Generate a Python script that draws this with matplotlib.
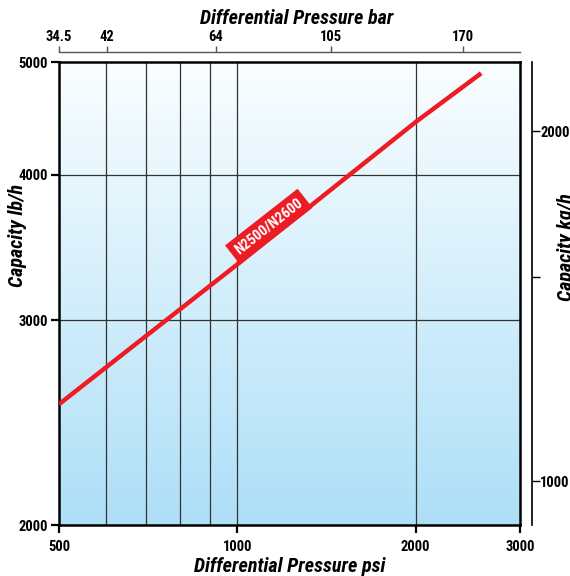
import matplotlib.pyplot as plt
import matplotlib.ticker as mticker
from matplotlib import font_manager as fm
import numpy as np

# data
psi = [500, 1000, 2000, 2580]
capacity_lb = [2540, 3350, 4440, 4890]
series_name = "N2500/N2600"

psi_ticks = [500, 1000, 2000, 3000]
psi_grid = [600, 700, 800, 900, 1000, 2000]
lb_ticks = [2000, 3000, 4000, 5000]
lb_grid = [3000, 4000]

# top scale (bar) - where the labels sit, in psi
bar_labels = ['34.5', '42', '64', '105', '170']
bar_at_psi = [500, 603, 920, 1440, 2400]

# right scale (kg/h)
kg_ticks = [1000, 1500, 2000]
kg_labels = ['1000', '', '2000']
kg_lim = (917, 2294)

red = '#ED1C24'


def _is_bold(w):
    if isinstance(w, str):
        return w in ('bold', 'heavy', 'extra bold', 'black', 'semibold', 'demibold')
    return w >= 600


def narrow_font(size, italic=False):
    # look for a condensed bold face; fall back to a plain bold sans
    order = ['Liberation Sans Narrow', 'Roboto Condensed', 'Open Sans Condensed',
             'Open Sans', 'Noto Sans', 'DejaVu Sans', 'Roboto', 'Lato', 'Inter']
    hits = []
    for f in fm.fontManager.ttflist:
        narrow = ('Narrow' in f.name or 'Condensed' in f.name or
                  f.stretch in ('condensed', 'semi-condensed'))
        if not narrow or not _is_bold(f.weight):
            continue
        if (f.style != 'normal') != italic:
            continue
        rank = order.index(f.name) if f.name in order else len(order)
        hits.append((rank, f.fname))
    if hits:
        hits.sort()
        return fm.FontProperties(fname=hits[0][1], size=size)
    return fm.FontProperties(family=['Liberation Sans', 'DejaVu Sans'], weight='bold',
                             style='italic' if italic else 'normal', size=size)


tick_fp = narrow_font(10.5)
label_fp = narrow_font(14.5, italic=True)
box_fp = narrow_font(10.5)

fig = plt.figure(figsize=(5.7, 5.76), dpi=100)
pos = [59 / 570, 51 / 576, 461 / 570, 463 / 576]

# gradient background
bg = fig.add_axes(pos, zorder=0)
top = np.array([0.98, 0.995, 1.0])
bot = np.array([0.68, 0.875, 0.97])
t = np.linspace(0, 1, 256)[:, None]
grad = (top * (1 - t) + bot * t)[:, None, :]
bg.imshow(grad, aspect='auto', extent=[0, 1, 0, 1])
bg.axis('off')

ax = fig.add_axes(pos, zorder=1)
ax.patch.set_alpha(0)
ax.set_xscale('log')
ax.set_yscale('log')
ax.set_xlim(500, 3000)
ax.set_ylim(2000, 5000)

for g in psi_grid:
    ax.axvline(g, color='#333333', lw=0.9, zorder=1)
for g in lb_grid:
    ax.axhline(g, color='#333333', lw=0.9, zorder=1)

ax.plot(psi, capacity_lb, color=red, lw=3.2, solid_capstyle='butt', zorder=3)

ax.text(1130, 3610, series_name, rotation=38, ha='center', va='center',
        rotation_mode='anchor', color='white', fontproperties=box_fp,
        bbox=dict(boxstyle='square,pad=0.35', fc=red, ec='none'), zorder=4)

ax.xaxis.set_major_locator(mticker.FixedLocator(psi_ticks))
ax.xaxis.set_major_formatter(mticker.FixedFormatter([str(v) for v in psi_ticks]))
ax.xaxis.set_minor_locator(mticker.NullLocator())
ax.yaxis.set_major_locator(mticker.FixedLocator(lb_ticks))
ax.yaxis.set_major_formatter(mticker.FixedFormatter([str(v) for v in lb_ticks]))
ax.yaxis.set_minor_locator(mticker.NullLocator())
ax.tick_params(axis='both', direction='out', length=6, width=1.6, pad=2)
ax.tick_params(axis='x', pad=5)
for lab in ax.get_xticklabels() + ax.get_yticklabels():
    lab.set_fontproperties(tick_fp)
for s in ax.spines.values():
    s.set_linewidth(1.8)

ax.set_xlabel('Differential Pressure psi', fontproperties=label_fp)
ax.xaxis.set_label_coords(0.5, -0.07)
ax.set_ylabel('Capacity lb/h', fontproperties=label_fp)
ax.yaxis.set_label_coords(-0.07, 0.625)

# top bar axis
axt = ax.twiny()
axt.set_xscale('log')
axt.set_xlim(500, 3000)
axt.xaxis.set_major_locator(mticker.FixedLocator(bar_at_psi))
axt.xaxis.set_major_formatter(mticker.FixedFormatter(bar_labels))
axt.xaxis.set_minor_locator(mticker.NullLocator())
for k in ['left', 'right', 'bottom']:
    axt.spines[k].set_visible(False)
axt.spines['top'].set_position(('outward', 7))
axt.spines['top'].set_color('#555555')
axt.spines['top'].set_linewidth(1.0)
axt.tick_params(axis='x', direction='out', length=4.5, width=1.0, color='#555555', pad=1.5)
for lab in axt.get_xticklabels():
    lab.set_fontproperties(tick_fp)
axt.set_xlabel('Differential Pressure bar', fontproperties=label_fp)
axt.xaxis.set_label_coords(0.515, 1.082)

# right kg/h axis
axr = ax.twinx()
axr.set_yscale('log')
axr.set_ylim(*kg_lim)
axr.yaxis.set_major_locator(mticker.FixedLocator(kg_ticks))
axr.yaxis.set_major_formatter(mticker.FixedFormatter(kg_labels))
axr.yaxis.set_minor_locator(mticker.NullLocator())
for k in ['left', 'top', 'bottom']:
    axr.spines[k].set_visible(False)
axr.spines['right'].set_position(('outward', 8.6))
axr.spines['right'].set_linewidth(1.2)
axr.tick_params(axis='y', direction='out', length=5.5, width=1.0, pad=0.5)
for lab in axr.get_yticklabels():
    lab.set_fontproperties(tick_fp)
axr.set_ylabel('Capacity kg/h', fontproperties=label_fp, rotation=90)
axr.yaxis.set_label_coords(1.08, 0.6)

fig.savefig('out.png', dpi=100)
